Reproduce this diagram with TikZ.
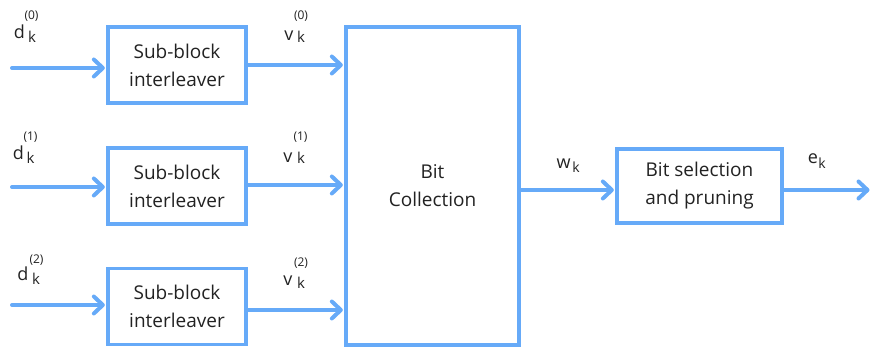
\documentclass[tikz,border=0pt]{standalone}
\usepackage{fontspec}
\setmainfont{Open Sans}
\usetikzlibrary{arrows.meta}
\definecolor{flow}{HTML}{66AAF8}
\definecolor{ink}{HTML}{222222}
\begin{document}
\begin{tikzpicture}[x=1pt,y=-1pt,
  blockbox/.style={draw=flow, line width=3.3pt, align=center, text=ink,
    inner sep=0pt, font=\fontsize{19}{28}\selectfont},
  flowarrow/.style={draw=flow, line width=4pt, line cap=round,
    -{Straight Barb[length=9pt,width=17pt,line cap=round,line join=round]}, shorten >=1.5pt},
  sym/.style={text=ink, inner sep=0pt, font=\fontsize{18}{18}\selectfont},
  sub/.style={text=ink, inner sep=0pt, font=\fontsize{15}{15}\selectfont},
  idx/.style={text=ink, inner sep=0pt, font=\fontsize{12}{12}\selectfont}]
\useasboundingbox (0,0) rectangle (873,347);

% interleaver blocks
\node[blockbox, minimum width=138pt, minimum height=76pt] (sb0) at (177,65) {Sub-block\\interleaver};
\node[blockbox, minimum width=138pt, minimum height=76pt] (sb1) at (177,186) {Sub-block\\interleaver};
\node[blockbox, minimum width=138pt, minimum height=76pt] (sb2) at (177,306.5) {Sub-block\\interleaver};

% collection and selection
\node[blockbox, minimum width=173pt, minimum height=318pt] (bc) at (432.5,186) {Bit\\Collection};
\node[blockbox, minimum width=165pt, minimum height=74pt] (bs) at (699.5,186) {Bit selection\\and pruning};

% free ends of the connectors
\coordinate (in0) at (12,68);
\coordinate (in1) at (12,187);
\coordinate (in2) at (12,305);
\coordinate (out0) at (246,65);
\coordinate (out1) at (246,185);
\coordinate (out2) at (246,310);
\coordinate (wrow) at (520,190);
\coordinate (eend) at (871,190);

\draw[flowarrow] (in0) -- (in0 -| sb0.west);
\draw[flowarrow] (in1) -- (in1 -| sb1.west);
\draw[flowarrow] (in2) -- (in2 -| sb2.west);
\draw[flowarrow] (out0 -| sb0.east) -- (out0 -| bc.west);
\draw[flowarrow] (out1 -| sb1.east) -- (out1 -| bc.west);
\draw[flowarrow] (out2 -| sb2.east) -- (out2 -| bc.west);
\draw[flowarrow] (wrow -| bc.east) -- (wrow -| bs.west);
\draw[flowarrow] (wrow -| bs.east) -- (eend);

% signal labels
\node[sym] (d0) at (19.5,32) {d};
\node[sub] (d0k) at (32,37) {k};
\node[idx] (d0i) at (31.5,16) {(0)};
\node[sym] (d1) at (18.5,153) {d};
\node[sub] (d1k) at (30.5,158) {k};
\node[idx] (d1i) at (30.5,137.5) {(1)};
\node[sym] (d2) at (23,274) {d};
\node[sub] (d2k) at (36,279) {k};
\node[idx] (d2i) at (36.5,260) {(2)};

\node[sym] (v0) at (289,35.5) {v};
\node[sub] (v0k) at (301,36.5) {k};
\node[idx] (v0i) at (301,16) {(0)};
\node[sym] (v1) at (288,158) {v};
\node[sub] (v1k) at (301,158) {k};
\node[idx] (v1i) at (300.5,137.5) {(1)};
\node[sym] (v2) at (288,281) {v};
\node[sub] (v2k) at (301,283) {k};
\node[idx] (v2i) at (301,263) {(2)};

\node[sym] (w) at (563.5,164) {w};
\node[idx, font=\fontsize{14}{14}\selectfont] (wk) at (576,167) {k};
\node[sym] (e) at (813,159) {e};
\node[idx, font=\fontsize{14}{14}\selectfont] (ek) at (822,163) {k};
\end{tikzpicture}
\end{document}
